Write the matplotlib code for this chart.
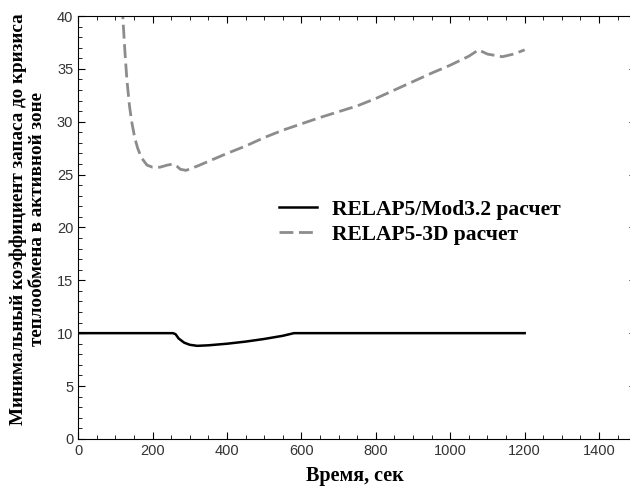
import matplotlib.pyplot as plt
from matplotlib.ticker import MultipleLocator

# данные
t_mod32 = [0, 100, 200, 255, 262, 270, 285, 300, 320, 350, 400, 450, 500, 550, 580, 700, 900, 1100, 1200]
k_mod32 = [10, 10, 10, 10, 9.9, 9.5, 9.1, 8.9, 8.8, 8.85, 9.0, 9.2, 9.45, 9.75, 10, 10, 10, 10, 10]

t_3d = [115, 120, 126, 131, 138, 144, 152, 160, 170, 185, 200, 220, 240, 255, 265, 275, 290, 320, 360,
        400, 450, 500, 550, 600, 650, 700, 750, 800, 850, 900, 950, 1000, 1050, 1076, 1100, 1140, 1170, 1200]
k_3d = [41, 40, 36.5, 34, 31.5, 30, 28.5, 27.5, 26.6, 25.9, 25.7, 25.7, 25.9, 26.0, 25.8, 25.5, 25.4, 25.8, 26.4,
        27.0, 27.7, 28.5, 29.2, 29.8, 30.4, 30.95, 31.5, 32.2, 33.0, 33.8, 34.6, 35.35, 36.2, 36.8, 36.4, 36.15, 36.4, 36.8]

plt.rcParams['font.family'] = ['Liberation Sans', 'DejaVu Sans']

fig = plt.figure(figsize=(6.3, 4.86), dpi=100)
ax = fig.add_axes([0.124, 0.097, 0.886, 0.87])

ax.plot(t_mod32, k_mod32, color='black', lw=1.8, label='RELAP5/Mod3.2 расчет')
ax.plot(t_3d, k_3d, color='#8c8c8c', lw=2.0, dashes=(5, 2), label='RELAP5-3D расчет')

ax.set_xlim(0, 1500)
ax.set_ylim(0, 40)
ax.xaxis.set_major_locator(MultipleLocator(200))
ax.xaxis.set_minor_locator(MultipleLocator(50))
ax.yaxis.set_major_locator(MultipleLocator(5))
ax.yaxis.set_minor_locator(MultipleLocator(1))
ax.tick_params(which='both', direction='in', top=True, right=True, labelsize=10.5, labelcolor='#333333')
ax.tick_params(which='major', length=5)
ax.tick_params(which='minor', length=3)

serif = ['Liberation Serif', 'DejaVu Serif']
ax.set_xlabel('Время, сек', fontsize=14.5, fontweight='bold', family=serif)
ax.xaxis.set_label_coords(0.495, -0.065)
ax.set_ylabel('Минимальный коэффициент запаса до кризиса\nтеплообмена в активной зоне',
              fontsize=13.8, fontweight='bold', family=serif, linespacing=1.15)
ax.yaxis.set_label_coords(-0.058, 0.52)

ax.legend(loc='upper left', bbox_to_anchor=(0.325, 0.612), frameon=False, handlelength=1.75,
          handletextpad=0.7, prop={'family': serif, 'weight': 'bold', 'size': 15.5}, labelspacing=0.25)

fig.savefig('out.png', dpi=100)
